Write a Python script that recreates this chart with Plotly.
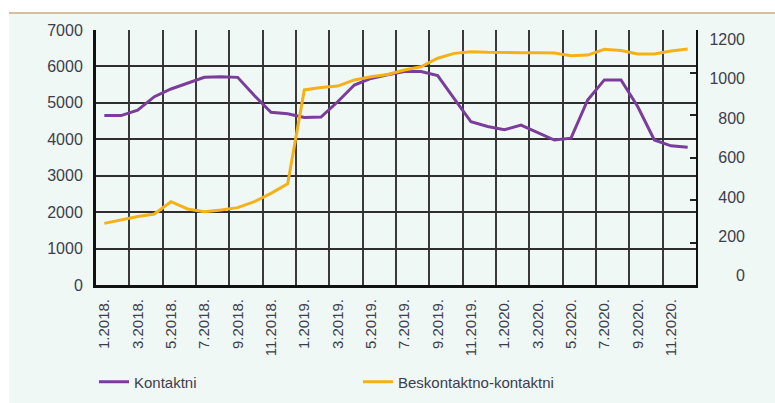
import plotly.graph_objects as go

months = [
    "1.2018.", "2.2018.", "3.2018.", "4.2018.", "5.2018.", "6.2018.",
    "7.2018.", "8.2018.", "9.2018.", "10.2018.", "11.2018.", "12.2018.",
    "1.2019.", "2.2019.", "3.2019.", "4.2019.", "5.2019.", "6.2019.",
    "7.2019.", "8.2019.", "9.2019.", "10.2019.", "11.2019.", "12.2019.",
    "1.2020.", "2.2020.", "3.2020.", "4.2020.", "5.2020.", "6.2020.",
    "7.2020.", "8.2020.", "9.2020.", "10.2020.", "11.2020.", "12.2020.",
]

kontaktni = [
    4650, 4650, 4800, 5170, 5380, 5540, 5700, 5720, 5700, 5200, 4740, 4700,
    4600, 4610, 5030, 5490, 5670, 5770, 5860, 5860, 5750, 5110, 4480, 4350,
    4260, 4390, 4190, 3980, 4030, 5080, 5630, 5630, 4900, 3980, 3820, 3780,
]

beskontaktno = [
    290, 306, 322, 334, 392, 358, 345, 353, 364, 392, 431, 476,
    918, 929, 936, 965, 980, 991, 1012, 1027, 1067, 1090, 1098, 1095,
    1093, 1093, 1093, 1092, 1079, 1082, 1109, 1103, 1087, 1087, 1101, 1111,
]

left_ticks = [0, 1000, 2000, 3000, 4000, 5000, 6000, 7000]
right_ticks = [0, 200, 400, 600, 800, 1000, 1200]

BG = "#eff8f5"
TXT = "#3d3d4d"
FONT = "Liberation Sans, Arial, sans-serif"

W, H = 775, 403
L, R, T, B = 96, 20, 20, 108
PW = W - L - R
PH = H - T - B
# plot frame in pixels: x 96..696, y 30..285
xdom_end = 600 / PW
ydom = [(H - B - 285) / PH, (H - B - 30) / PH]
pad_lo = ydom[0] * PH
pad_hi = (1 - ydom[1]) * PH
per_px = 1200 / 255
y3_range = [-pad_lo * per_px, 1200 + pad_hi * per_px]

def px_to_paper_x(px):
    return (px - L) / PW

def px_to_paper_y(py):
    return (H - B - py) / PH

fig = go.Figure()
fig.add_trace(go.Scatter(
    x=months, y=kontaktni, name="Kontaktni", mode="lines",
    line=dict(color="#7b3d9b", width=3), yaxis="y",
))
fig.add_trace(go.Scatter(
    x=months, y=beskontaktno, name="Beskontaktno-kontaktni", mode="lines",
    line=dict(color="#f5b119", width=3), yaxis="y2",
))
# carrier for the right-hand tick labels (invisible)
fig.add_trace(go.Scatter(
    x=months, y=beskontaktno, mode="lines", yaxis="y3",
    line=dict(color="rgba(0,0,0,0)", width=0), showlegend=False,
    hoverinfo="skip",
))

fig.update_layout(
    width=W, height=H,
    margin=dict(l=L, r=R, t=T, b=B, autoexpand=False),
    paper_bgcolor=BG,
    plot_bgcolor=BG,
    font=dict(family=FONT, color=TXT),
    showlegend=True,
    legend=dict(
        orientation="h", xref="paper", yref="paper",
        x=px_to_paper_x(94), y=px_to_paper_y(382),
        xanchor="left", yanchor="middle",
        entrywidth=219, entrywidthmode="pixels",
        font=dict(size=15, color=TXT), bgcolor="rgba(0,0,0,0)",
        traceorder="normal",
    ),
    xaxis=dict(
        type="category", domain=[0, xdom_end],
        tickmode="linear", dtick=2, tick0=0,
        tickson="boundaries", ticks="", showgrid=True,
        gridcolor="#3a3a3a", gridwidth=1.6,
        tickangle=-90, tickfont=dict(size=15, color=TXT),
        ticklabelstandoff=5,
        showline=True, linecolor="#111111", linewidth=3,
        range=[-0.5, 35.5], fixedrange=True,
    ),
    yaxis=dict(
        domain=ydom,
        range=[0, 7000], tickvals=left_ticks, ticks="",
        showgrid=True, gridcolor="#2e2e2e", gridwidth=1.6,
        tickfont=dict(size=16, color=TXT), ticklabelstandoff=7,
        showline=True, linecolor="#111111", linewidth=3,
        zeroline=False, fixedrange=True,
    ),
    yaxis2=dict(
        domain=ydom,
        range=[0, 1200], tickvals=right_ticks, overlaying="y", side="right",
        anchor="x", showgrid=False, showticklabels=False,
        ticks="inside", ticklen=6, tickwidth=2, tickcolor="#222222",
        showline=True, linecolor="#111111", linewidth=2, zeroline=False,
        fixedrange=True,
    ),
    yaxis3=dict(
        domain=[0, 1],
        range=y3_range, tickvals=right_ticks, overlaying="y", side="right",
        anchor="free", position=px_to_paper_x(748), showgrid=False,
        zeroline=False, showline=False, ticks="", ticklabelposition="inside",
        tickfont=dict(size=16, color=TXT), fixedrange=True,
    ),
    shapes=[
        dict(type="rect", xref="paper", yref="paper", layer="above",
             x0=px_to_paper_x(-5), x1=px_to_paper_x(W + 5),
             y0=px_to_paper_y(13), y1=px_to_paper_y(-5),
             fillcolor="white", line=dict(width=0)),
        dict(type="rect", xref="paper", yref="paper", layer="above",
             x0=px_to_paper_x(-5), x1=px_to_paper_x(9),
             y0=px_to_paper_y(H + 5), y1=px_to_paper_y(13),
             fillcolor="white", line=dict(width=0)),
        dict(type="line", xref="paper", yref="paper", layer="above",
             x0=px_to_paper_x(9), x1=px_to_paper_x(W + 5),
             y0=px_to_paper_y(13), y1=px_to_paper_y(13),
             line=dict(color="#c9ab7e", width=1.5)),
    ],
)

fig.write_html(
    "out.html",
    config={"displayModeBar": False},
    post_script="document.body.style.margin='0';document.body.style.padding='0';",
)
